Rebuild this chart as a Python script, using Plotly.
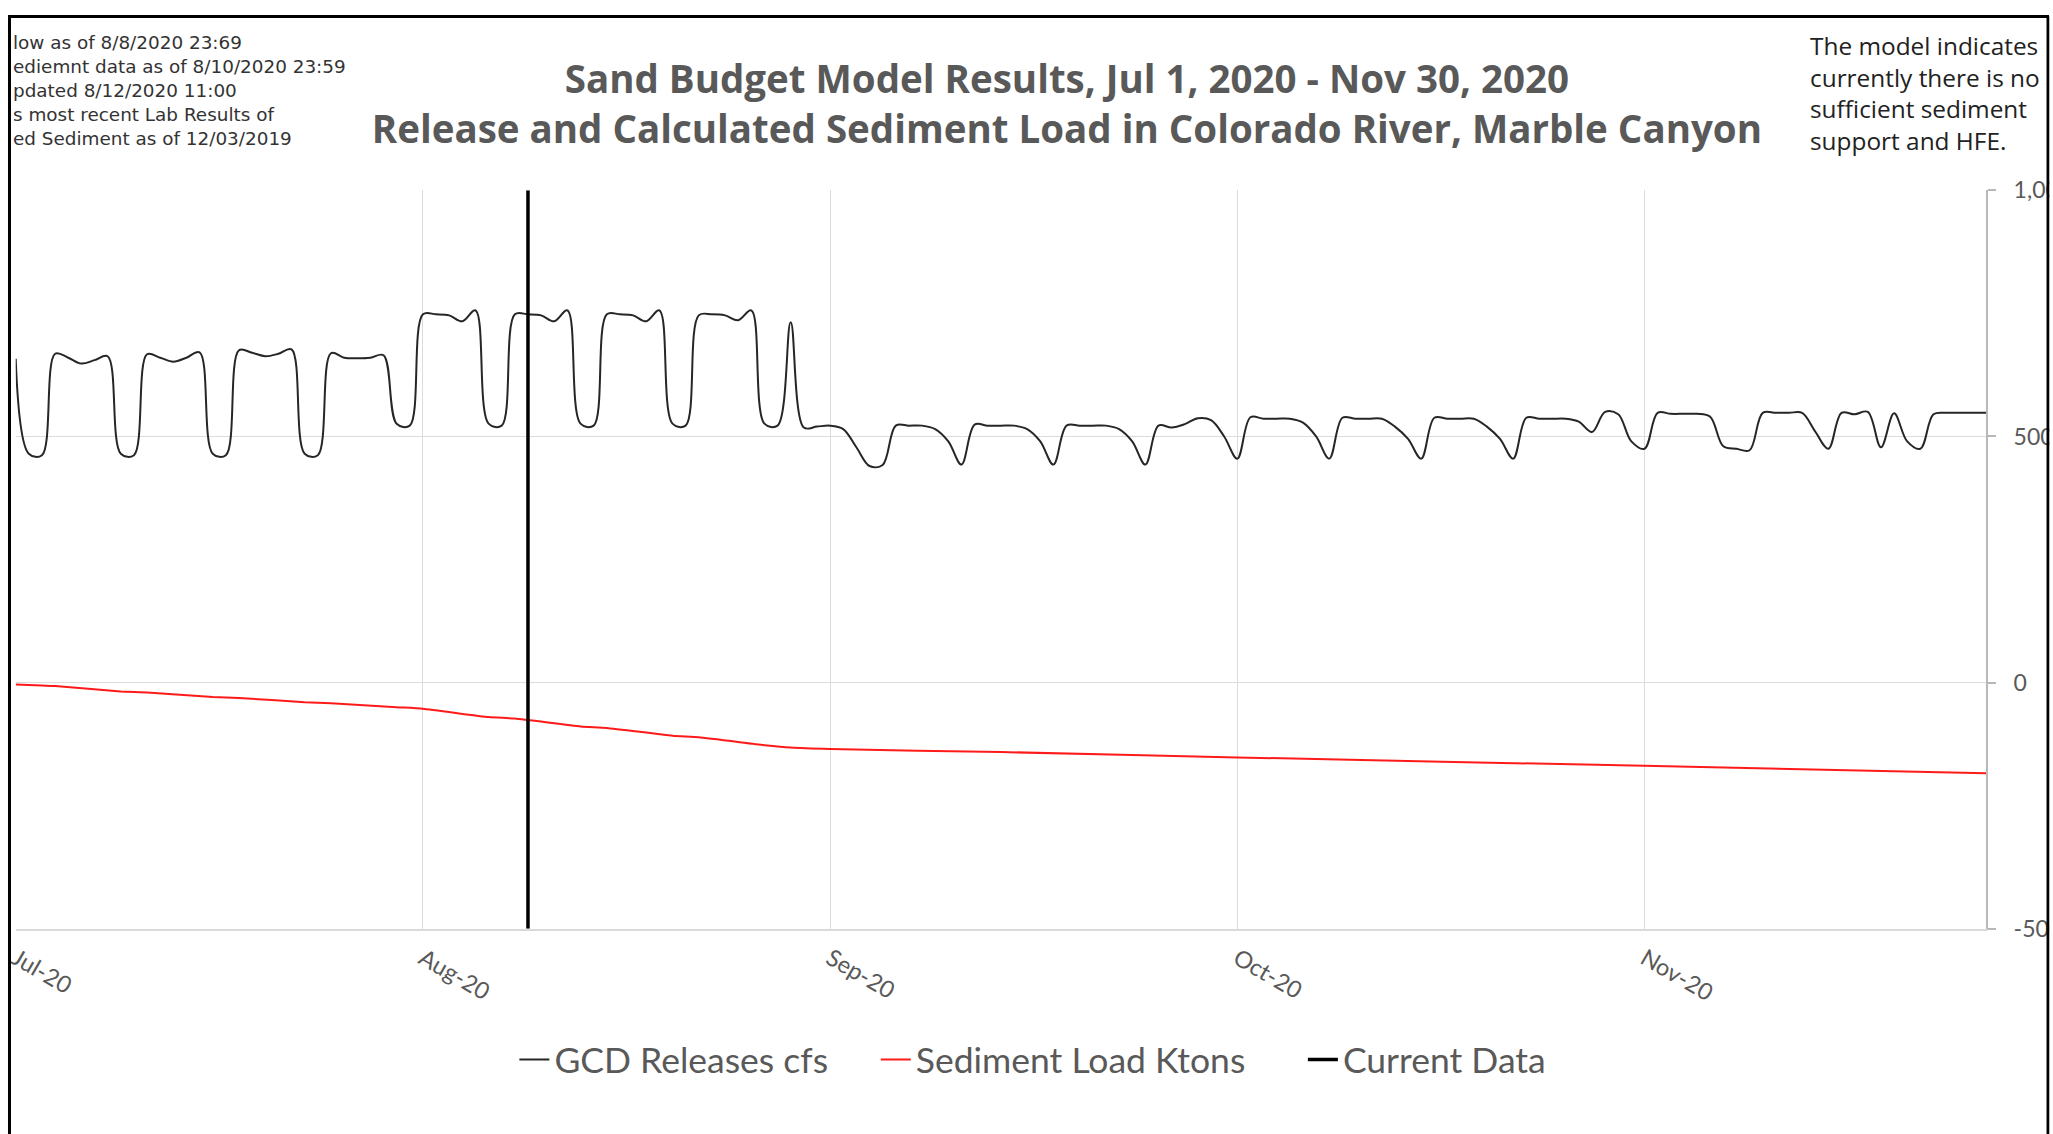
import plotly.graph_objects as go
import pandas as pd

# figure is placed at the page origin (body margin removed after drawing)
FW, FH = 2084, 1148
# measured mapping of page pixels to photographed pixels: seen = S * page + O
SX, OX = 0.996, 8.3
SY, OY = 0.975, 14.8

# ---------------- data ----------------
release_start = "2020-07-01"
release_cfs = [
    658, 465, 462, 668, 660, 648, 655,
    663, 465, 462, 667, 660, 652, 660,
    671, 465, 462, 675, 670, 663, 668,
    677, 465, 462, 669, 660, 659, 660,
    665, 526, 522, 748, 748, 746, 734,
    756, 526, 522, 748, 748, 746, 734,
    756, 526, 522, 748, 748, 746, 734,
    756, 526, 522, 746, 748, 746, 736,
    756, 526, 522, 732, 518, 520, 522,
    515, 478, 440, 442, 522, 522, 522,
    515, 490, 443, 524, 522, 522, 522,
    515, 490, 443, 522, 522, 522, 522,
    515, 490, 443, 522, 518, 525, 537,
    533, 500, 455, 539, 536, 536, 536,
    528, 500, 455, 538, 536, 536, 536,
    520, 495, 455, 538, 536, 536, 536,
    520, 495, 455, 538, 536, 536, 536,
    530, 509, 550, 545, 490, 475, 548,
    546, 546, 546, 540, 480, 475, 472,
    548, 548, 548, 548, 510, 475, 548,
    545, 550, 478, 547, 490, 475, 545,
    548, 548, 548, 548,
]

sediment_dates = [
    "2020-07-01", "2020-07-03", "2020-07-04", "2020-07-09", "2020-07-11",
    "2020-07-16", "2020-07-18", "2020-07-23", "2020-07-25", "2020-07-30",
    "2020-08-01", "2020-08-06", "2020-08-08", "2020-08-13", "2020-08-15",
    "2020-08-20", "2020-08-22", "2020-08-27", "2020-08-29", "2020-09-01",
    "2020-09-14", "2020-10-02", "2020-11-02", "2020-11-28",
]
sediment_ktons = [
    -4, -6, -7, -18, -20,
    -29, -31, -40, -42, -50,
    -53, -70, -73, -89, -92,
    -108, -111, -127, -132, -135,
    -141, -152, -169, -184,
]

current_data_x = ["2020-08-09", "2020-08-09"]
current_data_y = [-500, 1000]

x_tick_vals = ["2020-07-01", "2020-08-01", "2020-09-01", "2020-10-02", "2020-11-02"]
x_tick_text = ["Jul-20", "Aug-20", "Sep-20", "Oct-20", "Nov-20"]
x_range = ["2020-07-01", "2020-11-28"]

y_tick_vals = [-500, 0, 500, 1000]
y_tick_text = ["-500", "0", "500", "1,000"]
y_range = [-500, 1000]

series_names = ["GCD Releases cfs", "Sediment Load Ktons", "Current Data"]

title_lines = [
    "Sand Budget Model Results, Jul 1, 2020 - Nov 30, 2020",
    "Release and Calculated Sediment Load in Colorado River, Marble Canyon",
]
left_note = [
    "low as of 8/8/2020 23:69",
    "ediemnt data as of 8/10/2020 23:59",
    "pdated 8/12/2020 11:00",
    "s most recent Lab Results of",
    "ed Sediment as of 12/03/2019",
]
right_note = [
    "The model indicates",
    "currently there is no",
    "sufficient sediment",
    "support and HFE.",
]

# ---------------- figure ----------------
release_dates = pd.date_range(release_start, periods=len(release_cfs), freq="D")

GRAY = "#595959"
FONT = "Open Sans"


def px(r):   # target photo x -> paper fraction
    return ((r - OX) / SX) / FW


def py(r):   # target photo y -> paper fraction
    return 1 - ((r - OY) / SY) / FH


fig = go.Figure()
fig.add_trace(go.Scatter(
    x=release_dates, y=release_cfs, mode="lines", name=series_names[0],
    line=dict(color="#262626", width=2, shape="spline", smoothing=1.0),
    legendwidth=316.4,
))
fig.add_trace(go.Scatter(
    x=sediment_dates, y=sediment_ktons, mode="lines", name=series_names[1],
    line=dict(color="#ff1a1a", width=2, shape="spline", smoothing=0.5),
    legendwidth=382.1,
))
fig.add_trace(go.Scatter(
    x=current_data_x, y=current_data_y, mode="lines", name=series_names[2],
    line=dict(color="#000000", width=3.5),
))

annotations = [
    dict(text="<br>".join(left_note), x=px(11), y=py(90),
         xref="paper", yref="paper", xanchor="left", yanchor="middle",
         align="left", showarrow=False,
         font=dict(family="DejaVu Sans", size=18.4, color="#333333")),
    dict(text="<br>".join(right_note), x=px(1808), y=py(92.5),
         xref="paper", yref="paper", xanchor="left", yanchor="middle",
         align="left", showarrow=False,
         font=dict(family=FONT, size=24.4, color="#222222")),
]

fig.update_layout(
    width=FW, height=FH,
    margin=dict(l=0, r=0, t=0, b=0, pad=0),
    paper_bgcolor="white", plot_bgcolor="white",
    font=dict(family=FONT, color=GRAY),
    title=dict(
        text="<br>".join(title_lines),
        x=px(1067), xanchor="center", xref="paper",
        y=py(93), yanchor="middle", yref="paper",
        font=dict(family=FONT, size=38.5, color=GRAY, weight="bold"),
    ),
    xaxis=dict(
        type="date", domain=[px(16), px(1986)], range=x_range,
        tickvals=x_tick_vals, ticktext=x_tick_text, tickangle=30,
        tickfont=dict(family="Lato", size=23.5, color=GRAY),
        ticklabeloverflow="allow",
        showgrid=True, gridcolor="#dcdcdc", gridwidth=1,
        showline=True, linecolor="#d9d9d9", linewidth=2,
        ticks="", zeroline=False, ticklabelstandoff=5,
    ),
    yaxis=dict(
        domain=[py(928), py(190)], range=y_range, side="right",
        tickvals=y_tick_vals, ticktext=y_tick_text,
        tickfont=dict(family="Lato", size=23, color=GRAY),
        ticklabeloverflow="allow",
        showgrid=True, gridcolor="#dcdcdc", gridwidth=1,
        showline=True, linecolor="#b8b8b8", linewidth=2,
        ticks="outside", ticklen=8, tickcolor="#b8b8b8", tickwidth=1.5,
        zeroline=False, ticklabelstandoff=13,
    ),
    showlegend=True,
    legend=dict(
        orientation="h", x=px(514.6), xanchor="left",
        y=py(1059), yanchor="middle",
        font=dict(family="Lato", size=35.5, color=GRAY),
        bgcolor="rgba(0,0,0,0)", borderwidth=0,
    ),
    annotations=annotations,
    shapes=[
        dict(type="line", xref="paper", yref="paper", x0=1.5 / FW, x1=1.5 / FW,
             y0=0, y1=1 - 1.5 / FH, line=dict(color="black", width=3), layer="above"),
        dict(type="line", xref="paper", yref="paper", x0=0, x1=px(2049),
             y0=1 - 1.5 / FH, y1=1 - 1.5 / FH, line=dict(color="black", width=3), layer="above"),
        dict(type="line", xref="paper", yref="paper", x0=px(2048), x1=px(2048),
             y0=0, y1=1 - 1.5 / FH, line=dict(color="black", width=3), layer="above"),
        dict(type="rect", xref="paper", yref="paper", x0=px(2049.5), x1=1,
             y0=0, y1=1, fillcolor="white", line=dict(width=0), layer="above"),
    ],
)

fig.write_html(
    "out.html",
    config={"displayModeBar": False},
    post_script=(
        "document.documentElement.style.overflow='hidden';"
        "document.body.style.margin='0';document.body.style.overflow='hidden';"
    ),
)
